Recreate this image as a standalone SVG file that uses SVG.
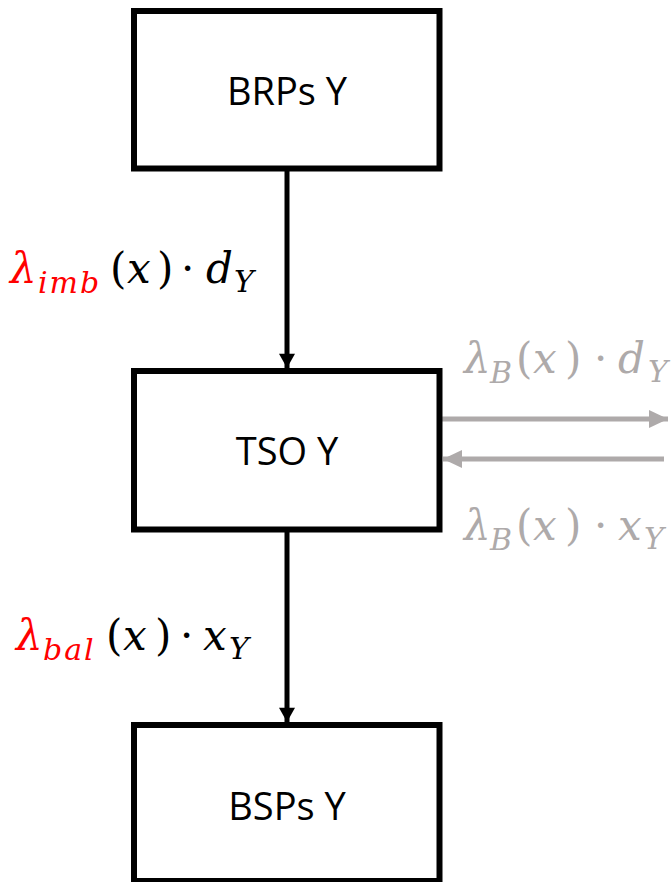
<svg xmlns="http://www.w3.org/2000/svg" width="672" height="882" viewBox="0 0 672 882">
<style>
.box{fill:#ffffff;stroke:#000000;stroke-width:6}
.lbl{font-family:"Open Sans","DejaVu Sans",sans-serif;font-size:38px;fill:#000;text-anchor:middle}
.m{font-family:"DejaVu Serif","Liberation Serif",serif;font-size:42px}
.it{font-style:italic}
.sub{font-size:30px;font-style:italic;letter-spacing:2px}
.red{fill:#ff0000}
.blk{fill:#000000}
.gry{fill:#aeaaaa}
.conn{stroke:#000;stroke-width:5;fill:none}
.gconn{stroke:#aeaaaa;stroke-width:5;fill:none}
</style>
<defs>
<marker id="ah" markerUnits="userSpaceOnUse" markerWidth="18" markerHeight="16" refX="16" refY="9" orient="auto" viewBox="0 0 16 18">
<path d="M0,0 L16,9 L0,18 Z" fill="#000"/>
</marker>
<marker id="gah" markerUnits="userSpaceOnUse" markerWidth="19" markerHeight="18" refX="19" refY="9" orient="auto" viewBox="0 0 19 18">
<path d="M0,0 L19,9 L0,18 Z" fill="#aeaaaa"/>
</marker>
</defs>
<g id="connectors">
<line class="conn" x1="287" y1="169" x2="287" y2="368" marker-end="url(#ah)"/>
<line class="conn" x1="287" y1="529" x2="287" y2="722" marker-end="url(#ah)"/>
<line class="gconn" x1="442" y1="419" x2="668" y2="419" marker-end="url(#gah)"/>
<line class="gconn" x1="664" y1="459" x2="443" y2="459" marker-end="url(#gah)"/>
</g>
<g id="node-brps">
<rect class="box" x="134" y="11" width="305.5" height="157.5"/>
<text class="lbl" x="287" y="105">BRPs Y</text>
</g>
<g id="node-tso">
<rect class="box" x="134" y="371" width="305.5" height="158.5"/>
<text class="lbl" x="287" y="465">TSO Y</text>
</g>
<g id="node-bsps">
<rect class="box" x="134" y="725" width="305.5" height="156"/>
<text class="lbl" x="287" y="820">BSPs Y</text>
</g>
<g id="label-imb" class="m">
<text class="red it" x="10" y="283">λ</text>
<text class="red sub" x="38" y="293">imb</text>
<text class="blk" x="110" y="283">(</text>
<text class="blk it" x="127" y="283">x</text>
<text class="blk" x="157" y="283">)</text>
<text class="blk" x="181" y="283">·</text>
<text class="blk it" x="206" y="283">d</text>
<text class="blk sub" x="234" y="292">Y</text>
</g>
<g id="label-bal" class="m">
<text class="red it" x="16" y="650">λ</text>
<text class="red sub" x="43" y="660">bal</text>
<text class="blk" x="106" y="650">(</text>
<text class="blk it" x="123" y="650">x</text>
<text class="blk" x="155" y="650">)</text>
<text class="blk" x="180" y="650">·</text>
<text class="blk it" x="203" y="650">x</text>
<text class="blk sub" x="229" y="659">Y</text>
</g>
<g id="label-bd" class="m gry">
<text class="it" x="464" y="373">λ</text>
<text class="sub" x="490" y="383">B</text>
<text x="516" y="373">(</text>
<text class="it" x="533" y="373">x</text>
<text x="565" y="373">)</text>
<text x="594" y="373">·</text>
<text class="it" x="618" y="373">d</text>
<text class="sub" x="648" y="382">Y</text>
</g>
<g id="label-bx" class="m gry">
<text class="it" x="464" y="540">λ</text>
<text class="sub" x="490" y="550">B</text>
<text x="516" y="540">(</text>
<text class="it" x="533" y="540">x</text>
<text x="565" y="540">)</text>
<text x="594" y="540">·</text>
<text class="it" x="618" y="540">x</text>
<text class="sub" x="644" y="549">Y</text>
</g>
</svg>
